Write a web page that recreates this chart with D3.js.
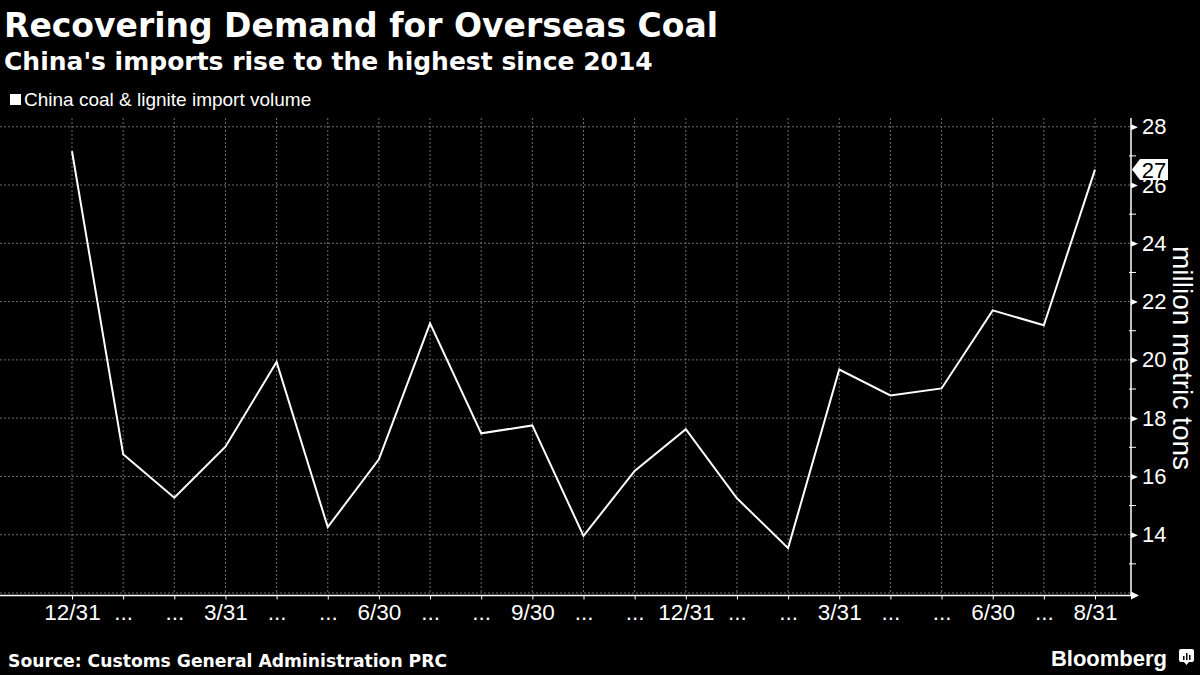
<!DOCTYPE html>
<html>
<head>
<meta charset="utf-8">
<script src="https://cdn.jsdelivr.net/npm/d3@7"></script>
<style>
  html, body { margin: 0; padding: 0; background: #000; }
  svg { display: block; }
  text { fill: #fff; font-family: "Liberation Sans", Arial, sans-serif; }
  .bold { font-family: "DejaVu Sans", sans-serif; font-weight: bold; }
</style>
</head>
<body>
<div class="container"></div>
<script>
// monthly imports, Dec 2015 - Aug 2017 (million metric tons)
var months = ["2015-12","2016-01","2016-02","2016-03","2016-04","2016-05","2016-06",
  "2016-07","2016-08","2016-09","2016-10","2016-11","2016-12","2017-01","2017-02",
  "2017-03","2017-04","2017-05","2017-06","2017-07","2017-08"];
var imports = [27.16, 16.76, 15.27, 17.02, 19.93, 14.26, 16.59, 21.25, 17.48, 17.75,
  13.96, 16.19, 17.62, 15.25, 13.54, 19.67, 18.78, 19.02, 21.70, 21.19, 26.53];
var tickLabels = ["12/31 ","...","...","3/31","...","...","6/30","...","...","9/30",
  "...","...","12/31","...","...","3/31","...","...","6/30","...","8/31"];
var yTicks = [14, 16, 18, 20, 22, 24, 26, 28];
var yMinor = [13, 15, 17, 19, 21, 23, 25, 27];
var lastLabel = "27";

const WIDTH = 1200;
const HEIGHT = 675;
const AXIS_X = 1131;
const TOP = 118;
const BOTTOM = 593;

var translate = function(x, y){
	return "translate(" + x + "," + y + ")";
};

var svg = d3.select('.container').append('svg')
	.attr('width', WIDTH)
	.attr('height', HEIGHT);

svg.append('rect').attr('width', WIDTH).attr('height', HEIGHT).attr('fill', '#000');

var xScale = d3.scalePoint()
	.domain(months)
	.range([72, 1095]);

var yScale = d3.scaleLinear()
	.domain([12, 28.3])
	.range([BOTTOM, TOP]);

// titles
svg.append('text').attr('class', 'bold').attr('x', 4).attr('y', 37)
	.attr('font-size', 33)
	.text('Recovering Demand for Overseas Coal');
svg.append('text').attr('class', 'bold').attr('x', 4).attr('y', 70)
	.attr('font-size', 25)
	.text("China's imports rise to the highest since 2014");

// legend
svg.append('rect').attr('x', 10).attr('y', 94).attr('width', 11).attr('height', 11).attr('fill', '#fff');
svg.append('text').attr('x', 24).attr('y', 106)
	.attr('font-size', 19)
	.text('China coal & lignite import volume');

// grid
var grid = svg.append('g').attr('stroke', '#6e6e6e').attr('stroke-dasharray', '2,2').attr('stroke-width', 1);
grid.selectAll('.hgrid').data([12].concat(yTicks)).enter().append('line')
	.attr('x1', 0).attr('x2', AXIS_X)
	.attr('y1', function(d){ return yScale(d); })
	.attr('y2', function(d){ return yScale(d); });
grid.selectAll('.vgrid').data(months).enter().append('line')
	.attr('x1', function(d){ return xScale(d); })
	.attr('x2', function(d){ return xScale(d); })
	.attr('y1', TOP).attr('y2', BOTTOM);

// x axis
var xAxis = d3.axisBottom(xScale)
	.tickSize(4)
	.tickPadding(5)
	.tickFormat(function(d, i){ return tickLabels[i]; });

var gx = svg.append('g')
	.attr('transform', translate(0, BOTTOM + 2.5))
	.call(xAxis);
gx.select('.domain').remove();
gx.append('line').attr('x1', 0).attr('x2', AXIS_X).attr('stroke', '#fff').attr('stroke-width', 1.5);
gx.selectAll('.tick line').attr('stroke', '#fff');
gx.selectAll('.tick text')
	.attr('fill', '#fff')
	.attr('font-size', 22.5)
	.attr('font-family', '"Liberation Sans", Arial, sans-serif');
gx.append('path').attr('d', 'M' + AXIS_X + ',-4L' + (AXIS_X + 8) + ',0L' + AXIS_X + ',4Z').attr('fill', '#fff');

// y axis (right)
var yAxis = d3.axisRight(yScale)
	.tickValues(yTicks)
	.tickSize(0)
	.tickPadding(11);

var gy = svg.append('g')
	.attr('transform', translate(AXIS_X, 0))
	.call(yAxis);
gy.select('.domain').remove();
gy.append('line').attr('y1', TOP).attr('y2', BOTTOM + 3).attr('stroke', '#fff').attr('stroke-width', 1.5);
gy.selectAll('.tick text')
	.attr('fill', '#fff')
	.attr('font-size', 22)
	.attr('font-family', '"Liberation Sans", Arial, sans-serif');
gy.selectAll('.tick').append('path')
	.attr('d', 'M0,-3L7,0L0,3Z')
	.attr('fill', '#fff');
gy.selectAll('.minor').data(yMinor).enter().append('line')
	.attr('x1', -2).attr('x2', 5)
	.attr('y1', function(d){ return yScale(d); })
	.attr('y2', function(d){ return yScale(d); })
	.attr('stroke', '#fff').attr('stroke-width', 1);

svg.append('text')
	.attr('transform', translate(1173, 358) + ' rotate(90)')
	.attr('text-anchor', 'middle')
	.attr('font-size', 28)
	.text('million metric tons');

// line
var line = d3.line()
	.x(function(d, i){ return xScale(months[i]); })
	.y(function(d){ return yScale(d); });

svg.append('path')
	.attr('d', line(imports))
	.attr('fill', 'none')
	.attr('stroke', '#fff')
	.attr('stroke-width', 2);

// last value tag
var ly = yScale(imports[imports.length - 1]);
var tag = svg.append('g').attr('transform', translate(AXIS_X + 1, ly));
tag.append('path')
	.attr('d', 'M0,0L8,-10.5L36,-10.5L36,10.5L8,10.5Z')
	.attr('fill', '#fff');
tag.append('text')
	.attr('x', 22).attr('y', 8)
	.attr('text-anchor', 'middle')
	.attr('font-size', 22)
	.style('fill', '#000')
	.text(lastLabel);

// footer
svg.append('text').attr('class', 'bold').attr('x', 8).attr('y', 667)
	.attr('font-size', 17.2)
	.text('Source: Customs General Administration PRC');
svg.append('text').attr('x', 1167).attr('y', 666)
	.attr('text-anchor', 'end')
	.attr('font-size', 22).attr('font-weight', 'bold')
	.text('Bloomberg');
var logo = svg.append('g').attr('transform', translate(1179, 649));
logo.append('rect').attr('width', 15).attr('height', 13).attr('rx', 2).attr('fill', '#fff');
logo.append('path').attr('d', 'M5,13L7.5,16L10,13Z').attr('fill', '#fff');
logo.selectAll('.bar').data([[4,7,1.5],[7,4,1.5],[10,6,1.5]]).enter().append('rect')
	.attr('x', function(d){ return d[0]; })
	.attr('y', function(d){ return d[1]; })
	.attr('width', function(d){ return d[2]; })
	.attr('height', function(d){ return 11 - d[1]; })
	.attr('fill', '#000');
</script>
</body>
</html>
